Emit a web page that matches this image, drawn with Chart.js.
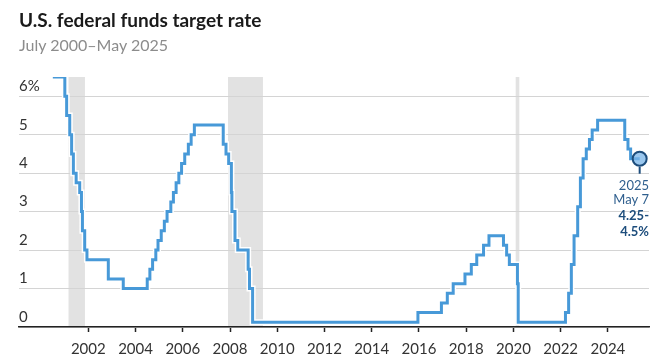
<!DOCTYPE html>
<html>
<head>
<meta charset="utf-8">
<script src="https://cdn.jsdelivr.net/npm/chart.js@4"></script>
<style>
  body { margin: 0; background: #fff; }
  #wrap { position: relative; width: 664px; height: 362px; font-family: Lato, "Noto Sans", sans-serif; }
  #title { position: absolute; left: 19px; top: 9px; font-size: 19px; font-weight: 700; color: #1a1a1a; line-height: 22px; }
  #subtitle { position: absolute; left: 19px; top: 35px; font-size: 16px; color: #8c8c8c; line-height: 20px; }
  canvas { position: absolute; left: 0; top: 0; }
</style>
</head>
<body>
<div id="wrap">
  <canvas id="rateChart" width="664" height="362"></canvas>
  <div id="title">U.S. federal funds target rate</div>
  <div id="subtitle">July 2000–May 2025</div>
</div>
<script>
// FOMC target changes (midpoint of the range after Dec 2008)
const changeDates = [
  "2000-07-01", "2001-01-03", "2001-01-31", "2001-03-20", "2001-04-18", "2001-05-15",
  "2001-06-27", "2001-08-21", "2001-09-17", "2001-10-02", "2001-11-06", "2001-12-11",
  "2002-11-06", "2003-06-25", "2004-06-30", "2004-08-10", "2004-09-21", "2004-11-10",
  "2004-12-14", "2005-02-02", "2005-03-22", "2005-05-03", "2005-06-30", "2005-08-09",
  "2005-09-20", "2005-11-01", "2005-12-13", "2006-01-31", "2006-03-28", "2006-05-10",
  "2006-06-29", "2007-09-18", "2007-10-31", "2007-12-11", "2008-01-22", "2008-01-30",
  "2008-03-18", "2008-04-30", "2008-10-08", "2008-10-29", "2008-12-16", "2015-12-16",
  "2016-12-14", "2017-03-15", "2017-06-14", "2017-12-13", "2018-03-21", "2018-06-13",
  "2018-09-26", "2018-12-19", "2019-07-31", "2019-09-18", "2019-10-30", "2020-03-03",
  "2020-03-15", "2022-03-16", "2022-05-04", "2022-06-15", "2022-07-27", "2022-09-21",
  "2022-11-02", "2022-12-14", "2023-02-01", "2023-03-22", "2023-05-03", "2023-07-26",
  "2024-09-18", "2024-11-07", "2024-12-18", "2025-05-07"
];
const rates = [
  6.5, 6.0, 5.5, 5.0, 4.5, 4.0,
  3.75, 3.5, 3.0, 2.5, 2.0, 1.75,
  1.25, 1.0, 1.25, 1.5, 1.75, 2.0,
  2.25, 2.5, 2.75, 3.0, 3.25, 3.5,
  3.75, 4.0, 4.25, 4.5, 4.75, 5.0,
  5.25, 4.75, 4.5, 4.25, 3.5, 3.0,
  2.25, 2.0, 1.5, 1.0, 0.125, 0.375,
  0.625, 0.875, 1.125, 1.375, 1.625, 1.875,
  2.125, 2.375, 2.125, 1.875, 1.625, 1.125,
  0.125, 0.375, 0.875, 1.625, 2.375, 3.125,
  3.875, 4.375, 4.625, 4.875, 5.125, 5.375,
  4.875, 4.625, 4.375, 4.375
];

// recessions (shaded)
const recessionStart = ["2001-03-01", "2007-12-01", "2020-02-05"];
const recessionEnd = ["2001-11-10", "2009-05-25", "2020-04-01"];

const xTicks = [2002, 2004, 2006, 2008, 2010, 2012, 2014, 2016, 2018, 2020, 2022, 2024];
const yTicks = [0, 1, 2, 3, 4, 5, 6];

const lastLabel = ["2025", "May 7", "4.25-", "4.5%"];

function toYear(s) {
  const d = new Date(s + "T00:00:00Z");
  const y = d.getUTCFullYear();
  const start = Date.UTC(y, 0, 1);
  const end = Date.UTC(y + 1, 0, 1);
  return y + (d.getTime() - start) / (end - start);
}

const points = changeDates.map((d, i) => ({ x: toYear(d), y: rates[i] }));
const lastIdx = points.length - 1;

const shadePlugin = {
  id: "shade",
  beforeDraw(chart) {
    const ctx = chart.ctx;
    const xs = chart.scales.x;
    const area = chart.chartArea;
    ctx.save();
    ctx.fillStyle = "#e2e2e2";
    for (let i = 0; i < recessionStart.length; i++) {
      const x1 = xs.getPixelForValue(toYear(recessionStart[i]));
      const x2 = xs.getPixelForValue(toYear(recessionEnd[i]));
      ctx.fillRect(x1, area.top, x2 - x1, area.bottom - area.top);
    }
    ctx.restore();
  },
};

const endLabelPlugin = {
  id: "endLabel",
  afterDatasetsDraw(chart) {
    const ctx = chart.ctx;
    const p = points[lastIdx];
    const px = chart.scales.x.getPixelForValue(p.x);
    const py = chart.scales.y.getPixelForValue(p.y);
    ctx.save();
    ctx.strokeStyle = "#1d4d7c";
    ctx.lineWidth = 2;
    ctx.beginPath();
    ctx.moveTo(px, py + 8);
    ctx.lineTo(px, py + 15);
    ctx.stroke();
    ctx.textAlign = "right";
    ctx.textBaseline = "middle";
    const right = chart.chartArea.right;
    ctx.fillStyle = "#2f5f8e";
    ctx.font = "13px Lato, 'Noto Sans', sans-serif";
    ctx.fillText(lastLabel[0], right, py + 27);
    ctx.fillText(lastLabel[1], right, py + 41);
    ctx.fillStyle = "#1d4d7c";
    ctx.font = "bold 13px Lato, 'Noto Sans', sans-serif";
    ctx.fillText(lastLabel[2], right, py + 57);
    ctx.fillText(lastLabel[3], right, py + 73);
    ctx.restore();
  },
};

const ctx = document.getElementById("rateChart").getContext("2d");

const rateChart = new Chart(ctx, {
  type: "line",
  data: {
    datasets: [
      {
        label: "Target rate",
        data: points,
        stepped: true,
        borderColor: "#4799d8",
        borderWidth: 3,
        pointRadius: points.map((p, i) => (i === lastIdx ? 7 : 0)),
        pointBackgroundColor: "rgba(120, 180, 232, 0.75)",
        pointBorderColor: "#1d4d7c",
        pointBorderWidth: 2,
      },
      {
        label: "halo",
        data: points,
        stepped: true,
        borderColor: "#ffffff",
        borderWidth: 6,
        pointRadius: 0,
      },
    ],
  },
  options: {
    responsive: false,
    animation: false,
    layout: {
      padding: { left: 19, right: 15, top: 77, bottom: -4 },
    },
    plugins: {
      legend: { display: false },
      tooltip: { enabled: false },
    },
    scales: {
      x: {
        type: "linear",
        min: 1999.065,
        max: 2025.74,
        afterBuildTicks: (s) => {
          s.ticks = xTicks.map((v) => ({ value: v }));
        },
        grid: {
          drawOnChartArea: false,
          drawTicks: true,
          tickLength: 5,
          tickColor: "#222",
          tickWidth: 1.5,
        },
        border: { color: "#222", width: 1.5 },
        ticks: {
          padding: 8,
          color: "#333",
          font: { family: "Lato, 'Noto Sans', sans-serif", size: 15 },
          maxRotation: 0,
          autoSkip: false,
          callback: (v) => String(v),
        },
      },
      y: {
        min: 0,
        max: 6.5,
        afterBuildTicks: (s) => {
          s.ticks = yTicks.map((v) => ({ value: v }));
        },
        grid: {
          color: "#d4d4d4",
          lineWidth: 1,
          drawTicks: false,
        },
        border: { display: false },
        ticks: {
          mirror: true,
          padding: 0,
          labelOffset: -10,
          color: "#333",
          font: { family: "Lato, 'Noto Sans', sans-serif", size: 15 },
          callback: (v) => (v === 6 ? v + "%" : String(v)),
        },
      },
    },
  },
  plugins: [shadePlugin, endLabelPlugin],
});
</script>
</body>
</html>
